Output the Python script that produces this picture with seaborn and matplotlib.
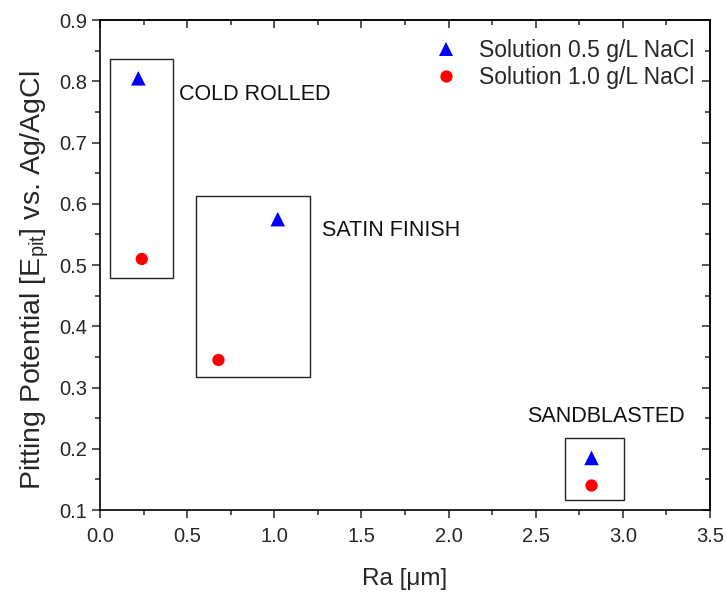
import matplotlib
matplotlib.use("Agg")
import matplotlib.pyplot as plt
from matplotlib.patches import Rectangle
from matplotlib.ticker import MultipleLocator, FormatStrFormatter
import seaborn as sns
import pandas as pd

# Data
ra_05 = [0.22, 1.02, 2.82]
epit_05 = [0.805, 0.575, 0.185]
ra_10 = [0.24, 0.68, 2.82]
epit_10 = [0.51, 0.345, 0.14]
series_names = ["Solution 0.5 g/L NaCl", "Solution 1.0 g/L NaCl"]
group_labels = ["COLD ROLLED", "SATIN FINISH", "SANDBLASTED"]
label_x = [0.455, 1.272, 2.45]
label_y = [0.778, 0.557, 0.252]
# boxes
box_x0 = [0.057, 0.549, 2.67]
box_x1 = [0.417, 1.203, 3.004]
box_y0 = [0.479, 0.318, 0.116]
box_y1 = [0.837, 0.613, 0.218]

df = pd.DataFrame({
    "Ra": ra_05 + ra_10,
    "Epit": epit_05 + epit_10,
    "Series": [series_names[0]] * len(ra_05) + [series_names[1]] * len(ra_10),
})

sns.set_style("ticks")
plt.rcParams["font.family"] = ["Liberation Sans", "DejaVu Sans"]
plt.rcParams["mathtext.fontset"] = "custom"
plt.rcParams["mathtext.rm"] = "Liberation Sans"
plt.rcParams["mathtext.it"] = "Liberation Sans"

fig = plt.figure(figsize=(7.26, 5.92), dpi=100)
ax = fig.add_axes([0.1377, 0.1385, 0.978 - 0.1377, 0.966 - 0.1385])

sns.scatterplot(data=df, x="Ra", y="Epit", hue="Series", style="Series", size="Series",
                palette={series_names[0]: "#0000ff", series_names[1]: "#ff0000"},
                markers={series_names[0]: "^", series_names[1]: "o"},
                sizes={series_names[0]: 110, series_names[1]: 78},
                linewidth=0, ax=ax, zorder=3)

for x0, x1, y0, y1 in zip(box_x0, box_x1, box_y0, box_y1):
    ax.add_patch(Rectangle((x0, y0), x1 - x0, y1 - y0, fill=False,
                           edgecolor="#222222", linewidth=1.0, zorder=2))

for t, x, y in zip(group_labels, label_x, label_y):
    ax.text(x, y, t, fontsize=15.5, va="center", ha="left", color="#111111")

ax.set_xlim(0, 3.5)
ax.set_ylim(0.1, 0.9)
ax.xaxis.set_major_locator(MultipleLocator(0.5))
ax.xaxis.set_minor_locator(MultipleLocator(0.25))
ax.yaxis.set_major_locator(MultipleLocator(0.1))
ax.yaxis.set_minor_locator(MultipleLocator(0.05))
ax.xaxis.set_major_formatter(FormatStrFormatter("%.1f"))
ax.yaxis.set_major_formatter(FormatStrFormatter("%.1f"))
ax.tick_params(which="major", direction="out", length=6, width=1.1, labelsize=14.5)
ax.tick_params(axis="x", which="major", pad=6)
ax.tick_params(axis="y", which="major", pad=3)
ax.tick_params(which="minor", direction="out", length=3.5, width=1.1)

for s in ax.spines.values():
    s.set_linewidth(1.2)
    s.set_color("black")

secx = ax.secondary_xaxis("top")
secx.xaxis.set_major_locator(MultipleLocator(0.5))
secx.xaxis.set_minor_locator(MultipleLocator(0.25))
secx.tick_params(which="major", direction="in", length=6, width=1.1, labeltop=False)
secx.tick_params(which="minor", direction="in", length=3.5, width=1.1)
secx.spines["top"].set_linewidth(1.2)
secy = ax.secondary_yaxis("right")
secy.yaxis.set_major_locator(MultipleLocator(0.1))
secy.yaxis.set_minor_locator(MultipleLocator(0.05))
secy.tick_params(which="major", direction="in", length=6, width=1.1, labelright=False)
secy.tick_params(which="minor", direction="in", length=3.5, width=1.1)
secy.spines["right"].set_linewidth(1.2)

ax.set_xlabel("Ra [\u03bcm]", fontsize=17.5, labelpad=16)
ax.set_ylabel("Pitting Potential [E$_{\\mathrm{pit}}$] vs. Ag/AgCl", fontsize=20.5)
ax.yaxis.set_label_coords(-0.08, 0.47)

leg = ax.legend(loc="upper right", bbox_to_anchor=(1.0, 0.995), frameon=False,
                fontsize=16.5, handletextpad=0.45, borderaxespad=0.3,
                labelspacing=0.2, markerscale=1.0)

fig.savefig("out.png", dpi=100)
